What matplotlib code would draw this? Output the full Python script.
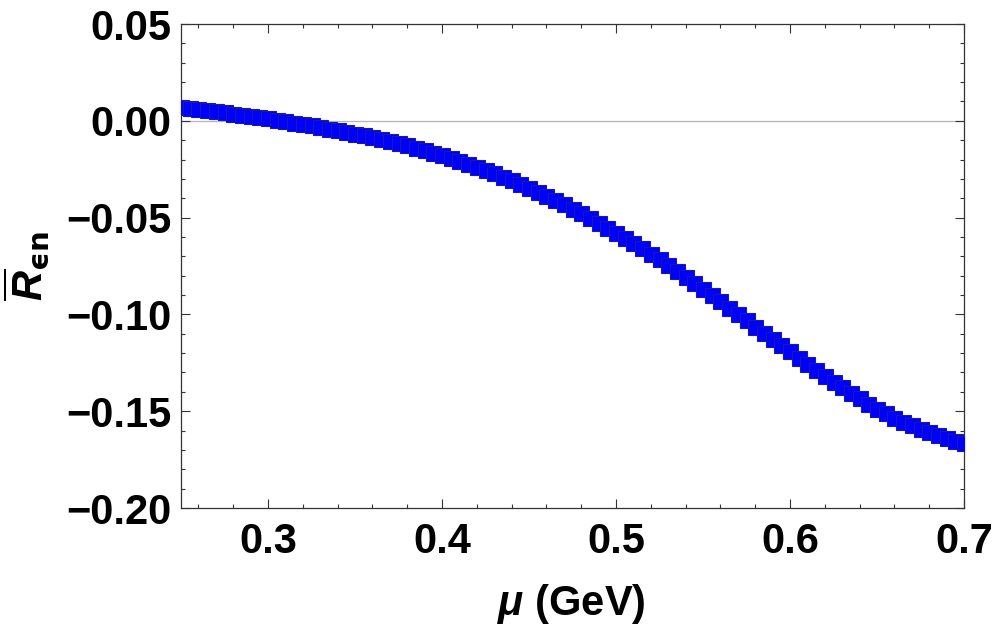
import numpy as np
import matplotlib
matplotlib.use("Agg")
import matplotlib.pyplot as plt
from matplotlib.ticker import MultipleLocator, FixedLocator

# ---- data ----
mu = [0.250, 0.255, 0.260, 0.265, 0.270, 0.275, 0.280, 0.285, 0.290, 0.295,
      0.300, 0.305, 0.310, 0.315, 0.320, 0.325, 0.330, 0.335, 0.340, 0.345,
      0.350, 0.355, 0.360, 0.365, 0.370, 0.375, 0.380, 0.385, 0.390, 0.395,
      0.400, 0.405, 0.410, 0.415, 0.420, 0.425, 0.430, 0.435, 0.440, 0.445,
      0.450, 0.455, 0.460, 0.465, 0.470, 0.475, 0.480, 0.485, 0.490, 0.495,
      0.500, 0.505, 0.510, 0.515, 0.520, 0.525, 0.530, 0.535, 0.540, 0.545,
      0.550, 0.555, 0.560, 0.565, 0.570, 0.575, 0.580, 0.585, 0.590, 0.595,
      0.600, 0.605, 0.610, 0.615, 0.620, 0.625, 0.630, 0.635, 0.640, 0.645,
      0.650, 0.655, 0.660, 0.665, 0.670, 0.675, 0.680, 0.685, 0.690, 0.695,
      0.700]
R_en = [0.00700, 0.00650, 0.00598, 0.00544, 0.00488, 0.00430, 0.00371, 0.00311, 0.00249, 0.00185,
        0.00119, 0.00051, -0.00019, -0.00091, -0.00165, -0.00241, -0.00319, -0.00399, -0.00482, -0.00568,
        -0.00657, -0.00749, -0.00845, -0.00945, -0.01049, -0.01158, -0.01272, -0.01391, -0.01515, -0.01645,
        -0.01781, -0.01923, -0.02070, -0.02223, -0.02382, -0.02547, -0.02718, -0.02895, -0.03078, -0.03268,
        -0.03465, -0.03669, -0.03879, -0.04095, -0.04317, -0.04545, -0.04779, -0.05019, -0.05265, -0.05517,
        -0.05775, -0.06039, -0.06309, -0.06585, -0.06867, -0.07155, -0.07449, -0.07749, -0.08055, -0.08367,
        -0.08685, -0.09005, -0.09327, -0.09651, -0.09976, -0.10301, -0.10626, -0.10950, -0.11272, -0.11592,
        -0.11910, -0.12228, -0.12544, -0.12858, -0.13168, -0.13473, -0.13771, -0.14061, -0.14341, -0.14609,
        -0.14864, -0.15104, -0.15329, -0.15539, -0.15734, -0.15914, -0.16082, -0.16238, -0.16383, -0.16518,
        -0.16644]

x_ticks = [0.3, 0.4, 0.5, 0.6, 0.7]
x_ticklabels = ["0.3", "0.4", "0.5", "0.6", "0.7"]
y_ticks = [-0.20, -0.15, -0.10, -0.05, 0.00, 0.05]
y_ticklabels = ["\u22120.20", "\u22120.15", "\u22120.10", "\u22120.05", "0.00", "0.05"]

# ---- style ----
plt.rcParams['font.family'] = ['Liberation Sans', 'DejaVu Sans']
plt.rcParams['font.weight'] = 'bold'
plt.rcParams['mathtext.fontset'] = 'custom'
plt.rcParams['mathtext.rm'] = 'Liberation Sans:bold'
plt.rcParams['mathtext.bf'] = 'Liberation Sans:bold'
plt.rcParams['mathtext.it'] = 'Liberation Sans:italic:bold'
plt.rcParams['mathtext.sf'] = 'DejaVu Sans'
plt.rcParams['mathtext.fallback'] = 'stixsans'

W, H = 997, 628
fig = plt.figure(figsize=(W / 100, H / 100), dpi=100)
ax = fig.add_axes([181 / W, 1 - 508 / H, (964 - 181) / W, (508 - 24) / H])

ax.axhline(0.0, color='#b4b4b4', lw=0.9, zorder=1)
ax.plot(mu, R_en, linestyle='none', marker='s', markersize=10.8,
        markerfacecolor='#0000ff', markeredgecolor='#1a1aa8', markeredgewidth=0.8,
        zorder=3)

ax.set_xlim(0.25, 0.70)
ax.set_ylim(-0.20, 0.05)

ax.xaxis.set_major_locator(FixedLocator(x_ticks))
ax.set_xticklabels(x_ticklabels)
ax.xaxis.set_minor_locator(MultipleLocator(0.02))
ax.yaxis.set_major_locator(FixedLocator(y_ticks))
ax.set_yticklabels(y_ticklabels)
ax.yaxis.set_minor_locator(MultipleLocator(0.01))

ax.tick_params(which='both', direction='in', top=True, right=True,
               colors='#333333', labelcolor='black', width=0.8)
ax.tick_params(which='major', length=6.5)
ax.tick_params(which='minor', length=3.2)
ax.tick_params(axis='both', which='major', labelsize=30)
ax.tick_params(axis='y', pad=7)
ax.tick_params(axis='x', pad=10)
for lab in ax.get_xticklabels() + ax.get_yticklabels():
    lab.set_fontweight('bold')

for sp in ax.spines.values():
    sp.set_color('#333333')
    sp.set_linewidth(0.9)

fig.text(571 / W, 1 - 604 / H, r'$\mu$ (GeV)', fontsize=30, fontweight='bold',
         ha='center', va='center')
fig.text(26 / W, 1 - 266 / H, '$\\overline{R}_{\\mathsf{\u03f5n}}$', fontsize=30,
         fontweight='bold', rotation=90, ha='center', va='center')

fig.savefig('out.png', dpi=100)
